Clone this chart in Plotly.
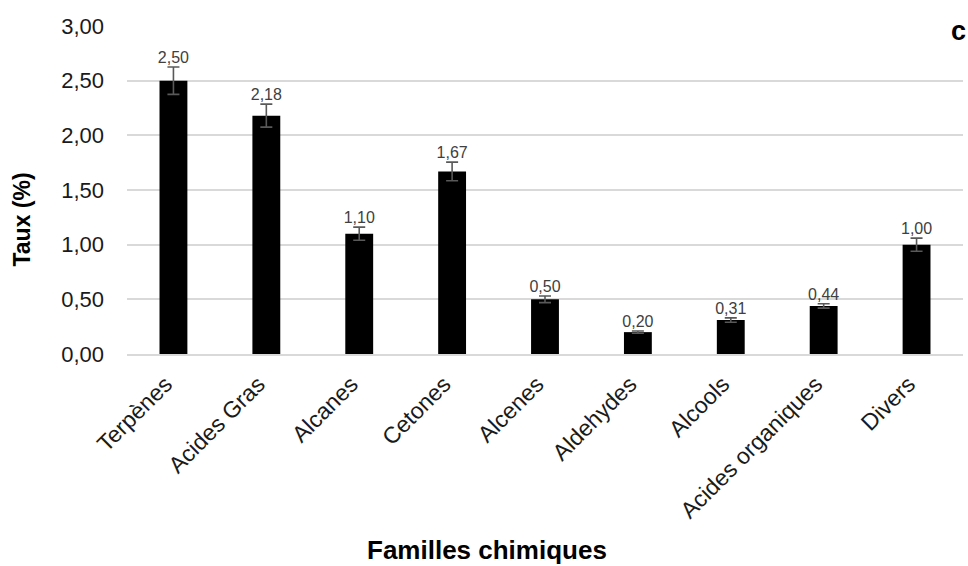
import plotly.graph_objects as go

categories = ["Terpènes", "Acides Gras", "Alcanes", "Cetones", "Alcenes",
              "Aldehydes", "Alcools", "Acides organiques", "Divers"]
values = [2.50, 2.18, 1.10, 1.67, 0.50, 0.20, 0.31, 0.44, 1.00]
errors = [0.125, 0.105, 0.06, 0.085, 0.03, 0.01, 0.02, 0.02, 0.06]
labels = [f"{v:.2f}".replace(".", ",") for v in values]

FONT = "Liberation Sans, Arial, sans-serif"

fig = go.Figure()
fig.add_trace(go.Bar(
    x=categories, y=values, width=0.3,
    marker=dict(color="black", line=dict(width=0)),
    error_y=dict(type="data", array=errors, visible=True,
                 color="#595959", thickness=1.6, width=6),
    showlegend=False, hoverinfo="skip",
))
fig.add_trace(go.Scatter(
    x=categories, y=[v + e for v, e in zip(values, errors)],
    mode="text", text=labels, textposition="top center",
    textfont=dict(family=FONT, size=16, color="#404040"),
    showlegend=False, hoverinfo="skip", cliponaxis=False,
))

fig.update_layout(
    width=968, height=566,
    margin=dict(l=127, r=5, t=26, b=212),
    paper_bgcolor="white", plot_bgcolor="white",
    separators=", ",
    font=dict(family=FONT, color="#000000"),
    xaxis=dict(
        tickangle=-45, tickfont=dict(family=FONT, size=23, color="#1a1a1a"),
        showgrid=False, showline=True, linecolor="#d9d9d9", linewidth=1.5,
        ticks="", ticklabelshift=-8, ticklabelstandoff=6,
    ),
    yaxis=dict(
        range=[0, 3.0], dtick=0.5, tickformat=".2f",
        tickfont=dict(family=FONT, size=22, color="#1a1a1a"),
        showgrid=True, gridcolor="#d9d9d9", gridwidth=1.5,
        zeroline=False, ticks="", ticklabelstandoff=22,
    ),
    annotations=[
        dict(text="<b>c</b>", xref="paper", yref="paper", x=1.006, y=0.985,
             xanchor="right", yanchor="middle", showarrow=False, width=36,
             align="right",
             font=dict(family=FONT, size=27, color="#000000"), bgcolor="white"),
        dict(text="<b>Taux (%)</b>", xref="paper", yref="paper",
             x=-0.1256, y=0.41, xanchor="center", yanchor="middle",
             textangle=-90, showarrow=False,
             font=dict(family=FONT, size=23, color="#000000")),
        dict(text="<b>Familles chimiques</b>", xref="paper", yref="paper",
             x=0.4306, y=-0.598, xanchor="center", yanchor="middle",
             showarrow=False,
             font=dict(family=FONT, size=26, color="#000000")),
    ],
)

fig.write_html(
    "out.html",
    config={"displayModeBar": False},
    post_script="document.body.style.margin='0';document.body.style.overflow='hidden';",
)
